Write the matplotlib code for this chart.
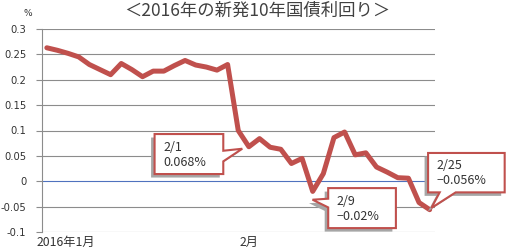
import matplotlib
matplotlib.use('Agg')
import matplotlib.pyplot as plt
import matplotlib.transforms as mtransforms
from matplotlib.patches import Polygon

plt.rcParams['font.family'] = ['Noto Sans CJK JP', 'DejaVu Sans']

# ---- data ----
dates = ['1/4', '1/5', '1/6', '1/7', '1/8', '1/12', '1/13', '1/14', '1/15', '1/18',
         '1/19', '1/20', '1/21', '1/22', '1/25', '1/26', '1/27', '1/28', '1/29',
         '2/1', '2/2', '2/3', '2/4', '2/5', '2/8', '2/9', '2/10', '2/12', '2/15',
         '2/16', '2/17', '2/18', '2/19', '2/22', '2/23', '2/24', '2/25']
yields = [0.263, 0.258, 0.252, 0.245, 0.230, 0.220, 0.210, 0.232, 0.220, 0.206,
          0.217, 0.217, 0.228, 0.238, 0.229, 0.225, 0.219, 0.230, 0.100,
          0.068, 0.084, 0.067, 0.063, 0.035, 0.045, -0.020, 0.015, 0.086, 0.097,
          0.052, 0.056, 0.028, 0.018, 0.007, 0.006, -0.042, -0.056]
yticks = [-0.1, -0.05, 0, 0.05, 0.1, 0.15, 0.2, 0.25, 0.3]
ytick_labels = ['-0.1', '-0.05', '0', '0.05', '0.1', '0.15', '0.2', '0.25', '0.3']
xtick_dates = ['1/4', '2/1']
xtick_labels = ['2016年1月', '2月']
callout_dates = ['2/1', '2/9', '2/25']
callout_texts = ['2/1\n0.068%', '2/9\n\u22120.02%', '2/25\n\u22120.056%']
title = '＜2016年の新発10年国債利回り＞'
unit = '%'

LINE_RED = '#C0504D'
GRID = '#8C8C8C'
TXT = '#333333'

fig = plt.figure(figsize=(5.1, 2.5), dpi=100)
ax = fig.add_axes([41.5 / 510, 18 / 250, (435 - 41.5) / 510, (232 - 29) / 250])

x = list(range(len(dates)))
ax.plot(x, yields, color=LINE_RED, lw=3.6, solid_joinstyle='round',
        solid_capstyle='round', zorder=3)

ax.set_xlim(-0.5, len(dates) - 0.5)
ax.set_ylim(-0.1, 0.3)
ax.set_yticks(yticks)
ax.set_yticklabels(ytick_labels, family='DejaVu Sans', fontsize=7.2, color=TXT)
ax.tick_params(axis='y', length=4, width=0.8, color=GRID, pad=7)
ax.set_xticks([dates.index(d) for d in xtick_dates])
ax.set_xticklabels(xtick_labels, fontsize=8.8, color=TXT)
ax.tick_params(axis='x', length=0, pad=2.5)
# first month label starts at the axis' left edge
lab0 = ax.get_xticklabels()[0]
lab0.set_ha('left')
lab0.set_transform(lab0.get_transform() +
                   mtransforms.ScaledTranslation(-10.6 / 100, 0, fig.dpi_scale_trans))

for v in yticks:
    if v == 0:
        ax.axhline(v, color='#4F72BE', lw=0.8, zorder=1)
    else:
        ax.axhline(v, color=GRID, lw=0.8, zorder=1)
for s in ['top', 'right', 'bottom']:
    ax.spines[s].set_visible(False)
ax.spines['left'].set_color(GRID)
ax.spines['left'].set_linewidth(0.8)

fig.text(257 / 510, 1 - 11 / 250, title, ha='center', va='center',
         fontsize=12.5, color='#404040')
fig.text(28 / 510, 1 - 14 / 250, unit, ha='center', va='center',
         family='DejaVu Sans', fontsize=6.5, color=TXT)

# ---- callouts (pixel overlay, y down) ----
ov = fig.add_axes([0, 0, 1, 1], zorder=5)
ov.set_xlim(0, 510)
ov.set_ylim(250, 0)
ov.axis('off')
ov.patch.set_alpha(0)


def to_px(xv, yv):
    return ov.transData.inverted().transform(ax.transData.transform((xv, yv)))


def draw_callout(verts, rect, text):
    sdx, sdy = -3.5, 3.5
    shadow = Polygon([(a + sdx, b + sdy) for a, b in verts], closed=True,
                     fc='#A6A6A6', ec='none', zorder=1)
    ov.add_patch(shadow)
    ov.add_patch(Polygon(verts, closed=True, fc='white', ec=LINE_RED, lw=1.5,
                         joinstyle='miter', zorder=2))
    l, t, r, b = rect
    ov.text(l + 8.5, (t + b) / 2 + 0.5, text, ha='left', va='center', fontsize=9,
            color=TXT, linespacing=1.2, zorder=3)


# 2/1 : box to the left, pointer from right edge
px, py = to_px(dates.index(callout_dates[0]), yields[dates.index(callout_dates[0])])
l, r, t, b = px - 94.3, px - 25.6, py - 12.7, py + 27.3
verts = [(l, t), (r, t), (r, py + 4), (px - 6.6, py + 2), (r, py + 14.6), (r, b), (l, b)]
draw_callout(verts, (l, t, r, b), callout_texts[0])

# 2/9 : box to the lower right, pointer from left edge
px, py = to_px(dates.index(callout_dates[1]), yields[dates.index(callout_dates[1])])
l, r, t, b = px + 15.5, px + 83.2, py - 3.3, py + 36.7
verts = [(l, t), (r, t), (r, b), (l, b), (l, py + 16), (px - 0.2, py + 8.3), (l, py + 7.3)]
draw_callout(verts, (l, t, r, b), callout_texts[1])

# 2/25 : box above, pointer from bottom edge
px, py = to_px(dates.index(callout_dates[2]), yields[dates.index(callout_dates[2])])
l, r, t, b = px - 1.6, px + 75, py - 56.7, py - 17.3
verts = [(l, t), (r, t), (r, b), (px + 26, b), (px + 1.7, py - 1.7), (px + 10, b), (l, b)]
draw_callout(verts, (l, t, r, b), callout_texts[2])

fig.savefig('out.png', dpi=100)
